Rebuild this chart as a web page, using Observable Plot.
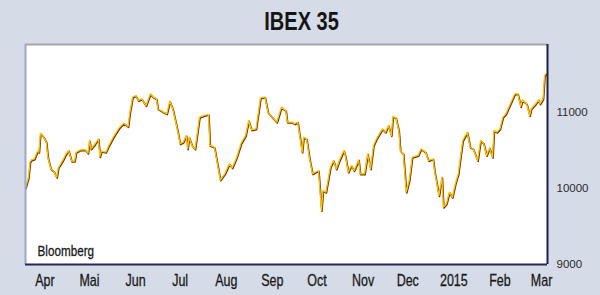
<!DOCTYPE html>
<html>
<head>
<meta charset="utf-8">
<script src="https://cdn.jsdelivr.net/npm/d3@7"></script>
<script src="https://cdn.jsdelivr.net/npm/@observablehq/plot@0.6"></script>
<style>
html, body { margin: 0; padding: 0; background: #d5dce7; width: 600px; height: 295px; overflow: hidden; }
#title { position: absolute; left: 0; top: 0; width: 604px; height: 40px; text-align: center; }
#title span { display: inline-block; margin-top: 9px; font: bold 25px "Liberation Sans", sans-serif; line-height: 25px; color: #151515; transform: scaleX(0.8); transform-origin: 50% 50%; }
#chart { position: absolute; left: 0; top: 40px; }
#chart svg { display: block; }
</style>
</head>
<body>
<div id="title"><span>IBEX 35</span></div>
<div id="chart"></div>
<script>
// Daily closes
const dates = [
  "2014-03-19","2014-03-21","2014-03-22","2014-03-23","2014-03-25","2014-03-27","2014-03-28","2014-03-29","2014-03-31","2014-04-02",
  "2014-04-03","2014-04-05","2014-04-07","2014-04-09","2014-04-10","2014-04-13","2014-04-15","2014-04-17","2014-04-19","2014-04-21",
  "2014-04-22","2014-04-25","2014-04-28","2014-04-30","2014-05-01","2014-05-02","2014-05-04","2014-05-07","2014-05-08","2014-05-09",
  "2014-05-12","2014-05-14","2014-05-17","2014-05-21","2014-05-24","2014-05-27","2014-05-28","2014-05-30","2014-06-01","2014-06-03",
  "2014-06-05","2014-06-08","2014-06-11","2014-06-13","2014-06-15",
  "2014-06-16","2014-06-20","2014-06-22","2014-06-24","2014-06-26","2014-06-29","2014-07-01","2014-07-03","2014-07-05","2014-07-06",
  "2014-07-07","2014-07-09","2014-07-11","2014-07-14","2014-07-17","2014-07-20","2014-07-21","2014-07-24","2014-07-28","2014-07-31",
  "2014-08-03","2014-08-05","2014-08-08","2014-08-11","2014-08-14","2014-08-16","2014-08-18","2014-08-21","2014-08-24","2014-08-27",
  "2014-08-29","2014-09-01","2014-09-04","2014-09-07","2014-09-10","2014-09-11",
  "2014-09-14","2014-09-16","2014-09-18","2014-09-21","2014-09-22","2014-09-24","2014-09-26","2014-09-28","2014-10-02","2014-10-04",
  "2014-10-05","2014-10-07","2014-10-10","2014-10-12","2014-10-14","2014-10-16","2014-10-19","2014-10-20","2014-10-22","2014-10-24",
  "2014-10-26","2014-10-29","2014-10-30","2014-11-02","2014-11-04","2014-11-06","2014-11-08","2014-11-10","2014-11-12","2014-11-14",
  "2014-11-16","2014-11-18","2014-11-20","2014-11-21","2014-11-23","2014-11-25","2014-11-26","2014-11-28","2014-11-30","2014-12-02",
  "2014-12-04","2014-12-08","2014-12-10",
  "2014-12-13","2014-12-15","2014-12-18","2014-12-19","2014-12-22","2014-12-24","2014-12-25","2014-12-27","2014-12-29","2014-12-31",
  "2015-01-02","2015-01-04","2015-01-05","2015-01-07","2015-01-10","2015-01-12","2015-01-14","2015-01-17","2015-01-19","2015-01-21",
  "2015-01-23","2015-01-25","2015-01-27","2015-01-28","2015-01-30","2015-02-01","2015-02-03","2015-02-05","2015-02-08","2015-02-11",
  "2015-02-13","2015-02-15","2015-02-16","2015-02-19","2015-02-21","2015-02-22","2015-02-25","2015-02-27","2015-02-28","2015-03-02",
  "2015-03-03","2015-03-04"
];
const closes = [
  10005,10144,10341,10372,10385,10485,10472,10721,10678,10603,
  10406,10254,10223,10144,10267,10363,10442,10494,10354,10354,
  10472,10503,10507,10459,10625,10516,10560,10647,10415,10485,
  10472,10560,10668,10792,10852,10809,10975,11193,11215,11149,
  11172,11084,11237,11193,11172,
  11041,10996,10975,11140,11041,10778,10582,10603,10691,10516,
  10668,10560,10516,10931,10953,10966,10560,10537,10110,10189,
  10320,10267,10406,10590,10691,10887,10765,10778,11185,11193,
  10996,10931,10865,11062,11018,10865,
  10865,10844,10865,10472,10668,10647,10385,10189,10232,9708,
  9970,9948,10275,10363,10254,10363,10494,10429,10210,10297,
  10232,10372,10189,10189,10451,10254,10560,10647,10713,10778,
  10734,10822,10691,10940,10923,10756,10494,10451,9948,10101,
  10406,10429,10516,
  10472,10363,10385,10232,9904,10144,9751,9796,9948,9882,
  10058,10189,10341,10625,10734,10537,10516,10363,10625,10590,
  10429,10529,10406,10756,10734,10778,10931,10975,11106,11237,
  11237,11071,11159,11106,10953,11041,11106,11159,11106,11172,
  11477,11499
];
const monthTicks = ["2014-04-01","2014-05-01","2014-06-01","2014-07-01","2014-08-01","2014-09-01","2014-10-01","2014-11-01","2014-12-01","2015-01-01","2015-02-01","2015-03-01"];
const monthLabels = ["Apr","Mai","Jun","Jul","Aug","Sep","Oct","Nov","Dec","2015","Feb","Mar"];
const yTicks = [9000, 10000, 11000];
const xDomain = ["2014-03-19", "2015-03-05"];
const yDomain = [9000, 11883];
const source = "Bloomberg";

const parse = d3.utcParse("%Y-%m-%d");
const data = dates.map((d, i) => ({date: parse(d), close: closes[i]}));
const tickDates = monthTicks.map(parse);
const labelOf = new Map(tickDates.map((d, i) => [+d, monthLabels[i]]));
const x0 = parse(xDomain[0]), x1 = parse(xDomain[1]);

const sans = '"Liberation Sans", Arial, sans-serif';

const chart = Plot.plot({
  width: 600,
  height: 255,
  marginTop: 4,
  marginBottom: 31,
  marginLeft: 25,
  marginRight: 53,
  style: {background: "transparent", overflow: "visible", color: "#1a1a1a"},
  x: {type: "utc", domain: [x0, x1]},
  y: {domain: yDomain},
  marks: [
    Plot.frame({fill: "white", stroke: null}),
    Plot.line(data, {x: "date", y: "close", stroke: "#6e2c00", strokeWidth: 1.7, dx: 0.5, dy: 0.8}),
    Plot.line(data, {x: "date", y: "close", stroke: "#ffc400", strokeWidth: 1.3}),
    Plot.ruleY([yDomain[1]], {stroke: "#a4a6ad", strokeWidth: 2}),
    Plot.ruleX([x0], {stroke: "#a0a4cc", strokeWidth: 2}),
    Plot.ruleX([x1], {stroke: "#1d1d4d", strokeWidth: 2}),
    Plot.ruleY([yDomain[0]], {stroke: "#26265a", strokeWidth: 2}),
    Plot.axisX({ticks: tickDates, tickFormat: d => labelOf.get(+d), tickSize: 0, tickPadding: 10, label: null, fontSize: 16, fontFamily: sans, fill: "#1a1a1a"}),
    Plot.axisY({anchor: "right", ticks: yTicks, tickFormat: d => String(d), tickSize: 0, tickPadding: 9, textAnchor: "start", label: null, fontSize: 11.5, fontFamily: sans, fill: "#2a2a2a"}),
    Plot.text([source], {frameAnchor: "bottom-left", text: d => d, dx: 12, dy: -13, textAnchor: "start", lineAnchor: "middle", fontSize: 15, fontFamily: sans, fill: "#1a1a1a"})
  ]
});

// condensed look: squeeze the x labels and source text horizontally
chart.querySelectorAll('g[aria-label="x-axis tick label"] text, g[aria-label="text"] text').forEach(t => {
  const tr = t.getAttribute("transform") || "";
  t.setAttribute("transform", tr + " scale(0.78,1)");
  t.setAttribute("stroke", "#1a1a1a");
  t.setAttribute("stroke-width", "0.3");
});
document.getElementById("chart").appendChild(chart);
</script>
</body>
</html>
